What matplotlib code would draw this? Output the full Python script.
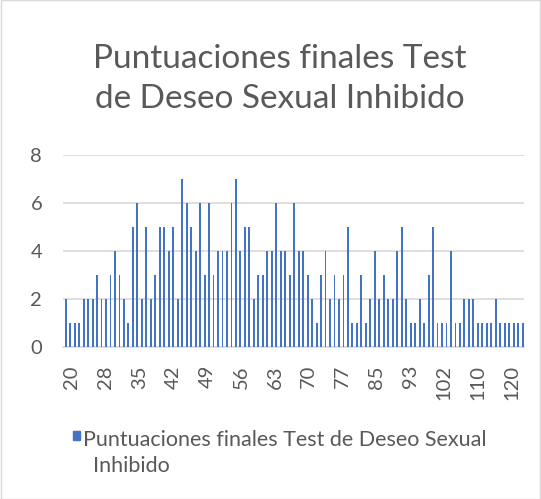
import matplotlib
matplotlib.use("Agg")
import numpy as np
import matplotlib.pyplot as plt
from matplotlib.patches import Rectangle

# puntuaciones (frecuencia por categoria, de izquierda a derecha)
frecuencias = [2, 1, 1, 1, 2, 2, 2, 3, 2, 2, 3, 4, 3,
               2, 1, 5, 6, 2, 5, 2, 3, 5, 5, 4, 5, 2,
               7, 6, 5, 4, 6, 3, 6, 3, 4, 4, 4, 6, 7,
               4, 5, 5, 2, 3, 3, 4, 4, 6, 4, 4, 3, 6,
               4, 4, 3, 2, 1, 3, 4, 2, 3, 2, 3, 5, 1,
               1, 3, 1, 2, 4, 2, 3, 2, 2, 4, 5, 2, 1,
               1, 2, 1, 3, 5, 1, 1, 1, 4, 1, 1, 2, 2,
               2, 1, 1, 1, 1, 2, 1, 1, 1, 1, 1, 1]
etiquetas_x = ["20", "28", "35", "42", "49", "56", "63", "70", "77",
               "85", "93", "102", "110", "120"]
y_ticks = [0, 2, 4, 6, 8]

titulo = "Puntuaciones finales Test\nde Deseo Sexual Inhibido"
serie = "Puntuaciones finales Test de Deseo Sexual"
serie2 = "Inhibido"

azul = "#4472C4"
gris_txt = "#595959"
gris_linea = "#D9D9D9"

plt.rcParams["font.family"] = ["Lato", "DejaVu Sans"]

fig = plt.figure(figsize=(5.41, 4.99), dpi=100)
ax = fig.add_axes([63 / 541, 1 - 347 / 499, 461 / 541, 192 / 499])

x = np.arange(len(frecuencias))
ax.bar(x, frecuencias, width=0.42, color=azul, zorder=3)

ax.set_xlim(-0.6, len(frecuencias) - 0.7)
ax.set_ylim(0, 8)
ax.set_yticks(y_ticks)
ax.tick_params(axis="y", length=0, pad=15, labelsize=14.5, labelcolor=gris_txt)

# etiquetas del eje x, espaciadas como en el original
pos = 1.4 + 7.55 * np.arange(len(etiquetas_x))
ax.set_xticks(pos)
ax.set_xticklabels(etiquetas_x, rotation=90, va="top", ha="center")
ax.tick_params(axis="x", length=0, pad=13, labelsize=14.5, labelcolor=gris_txt)

ax.grid(axis="y", color=gris_linea, linewidth=1.2, zorder=0)
for s in ["top", "right", "left"]:
    ax.spines[s].set_visible(False)
ax.spines["bottom"].set_color(gris_linea)
ax.spines["bottom"].set_linewidth(1.2)

fig.text(280 / 541, 1 - 79 / 499, titulo, ha="center", va="center",
         fontsize=24, color=gris_txt, linespacing=1.42)

# leyenda
fig.patches.append(Rectangle((73 / 541, 1 - 440 / 499), 7 / 541, 9 / 499,
                             transform=fig.transFigure, color=azul))
fig.text(83 / 541, 1 - 440 / 499, serie, ha="left", va="center",
         fontsize=15.5, color=gris_txt)
fig.text(93 / 541, 1 - 466 / 499, serie2, ha="left", va="center",
         fontsize=15.5, color=gris_txt)

fig.patches.append(Rectangle((0.001, 0.001), 0.998, 0.998, transform=fig.transFigure,
                             fill=False, edgecolor=gris_linea, linewidth=1))

fig.savefig("out.png", dpi=100, facecolor="white")
